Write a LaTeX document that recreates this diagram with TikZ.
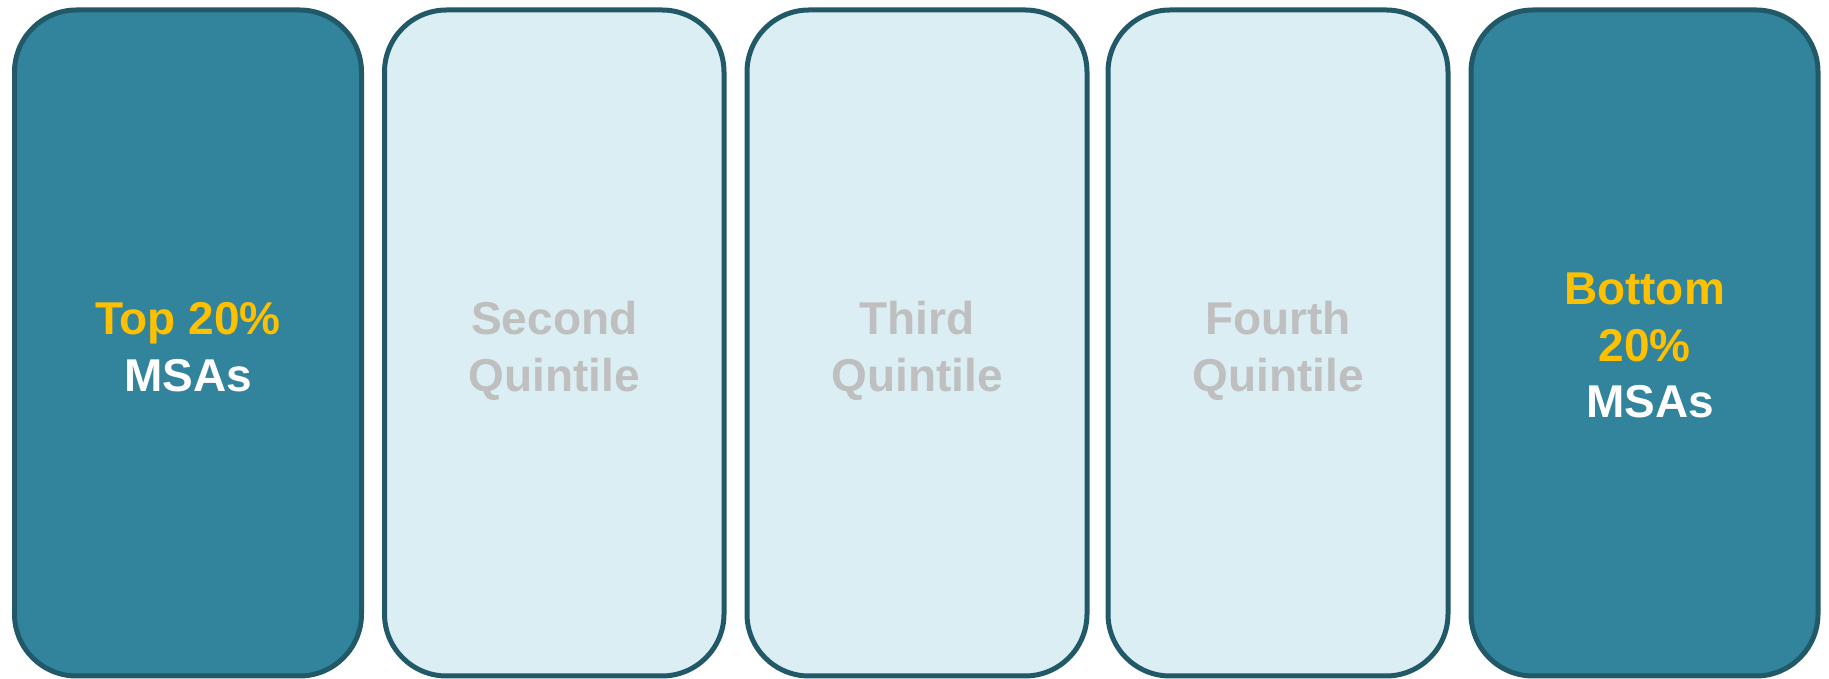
\documentclass[tikz,border=0pt]{standalone}
\usepackage{fontspec}
\setmainfont{Liberation Sans}
\definecolor{teal}{HTML}{31849B}
\definecolor{edge}{HTML}{215968}
\definecolor{pale}{HTML}{DAEEF3}
\definecolor{gold}{HTML}{FFC000}
\definecolor{grey}{HTML}{BFBFBF}
\tikzset{
  quint/.style={draw=edge, line width=5pt, rounded corners=62pt, minimum height=666pt, inner sep=0pt},
  darkq/.style={quint, fill=teal},
  lightq/.style={quint, fill=pale},
  lbl/.style={font=\fontsize{46}{57}\selectfont\bfseries, anchor=base, inner sep=0pt},
}
\begin{document}
\begin{tikzpicture}[x=1pt,y=1pt]
\useasboundingbox (0,0) rectangle (1829,679);
\node[darkq, minimum width=347pt] (q1) at (188,336) {};
\node[lightq, minimum width=339.5pt] (q2) at (554.25,336) {};
\node[lightq, minimum width=340pt] (q3) at (917,336) {};
\node[lightq, minimum width=340pt] (q4) at (1278,336) {};
\node[darkq, minimum width=347pt] (q5) at (1644.5,336) {};
\node[lbl, text=gold] (t1a) at (188,344) {Top 20\%};
\node[lbl, text=white] (t1b) at (188,287) {MSAs};
\node[lbl, text=grey] (t2a) at (554.25,344) {Second};
\node[lbl, text=grey] (t2b) at (554.25,287) {Quintile};
\node[lbl, text=grey] (t3a) at (917,344) {Third};
\node[lbl, text=grey] (t3b) at (917,287) {Quintile};
\node[lbl, text=grey] (t4a) at (1278,344) {Fourth};
\node[lbl, text=grey] (t4b) at (1278,287) {Quintile};
\node[lbl, text=gold] (t5a) at (1644.5,374) {Bottom};
\node[lbl, text=gold] (t5b) at (1644.5,317) {20\%};
\node[lbl, text=white] (t5c) at (1650,261) {MSAs};
\end{tikzpicture}
\end{document}
